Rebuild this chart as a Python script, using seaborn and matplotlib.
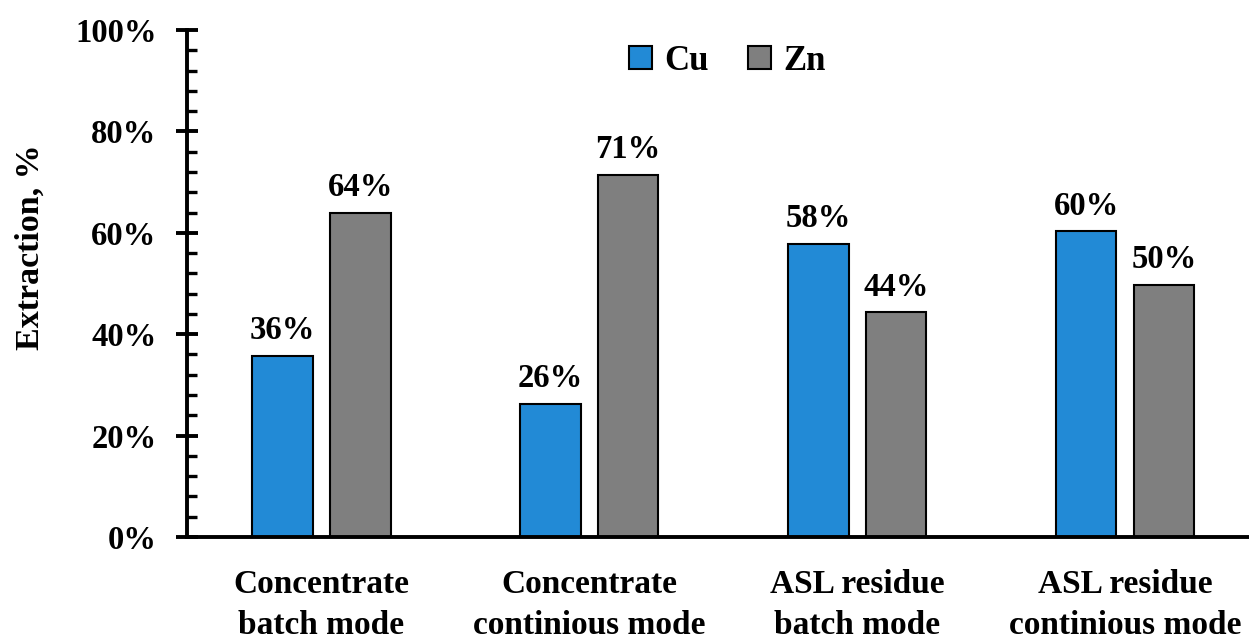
import pandas as pd
import numpy as np
import matplotlib
matplotlib.use("Agg")
import matplotlib.pyplot as plt
from matplotlib.ticker import MultipleLocator, PercentFormatter
import seaborn as sns

# data
samples = ["Concentrate\nbatch mode", "Concentrate\ncontinious mode",
           "ASL residue\nbatch mode", "ASL residue\ncontinious mode"]
metals = ["Cu", "Zn"]
cu_extraction = [35.7, 26.2, 57.8, 60.3]
zn_extraction = [63.9, 71.4, 44.3, 49.7]

df = pd.DataFrame({
    "sample": samples * 2,
    "metal": ["Cu"] * 4 + ["Zn"] * 4,
    "extraction": cu_extraction + zn_extraction,
})

sns.set_style("white")
plt.rcParams["font.family"] = ["Liberation Serif", "DejaVu Serif"]
plt.rcParams["font.weight"] = "bold"
plt.rcParams["text.color"] = "black"
plt.rcParams["xtick.color"] = "black"
plt.rcParams["ytick.color"] = "black"
plt.rcParams["axes.labelcolor"] = "black"

fig = plt.figure(figsize=(12.49, 6.43), dpi=100)
ax = fig.add_axes([187 / 1249, 1 - 537 / 643, 1070 / 1249, 507 / 643])

sns.barplot(data=df, x="sample", y="extraction", hue="metal",
            palette={"Cu": "#228AD6", "Zn": "#7F7F7F"}, saturation=1,
            width=0.58, gap=0.22, edgecolor="black", linewidth=1.5,
            ax=ax)

for cont in ax.containers:
    ax.bar_label(cont, labels=[f"{v:.0f}%" for v in cont.datavalues],
                 padding=7, fontsize=23.5, fontweight="bold")

ax.set_ylim(0, 100)
ax.set_xlim(-0.502, 3.493)
ax.yaxis.set_major_locator(MultipleLocator(20))
ax.yaxis.set_minor_locator(MultipleLocator(4))
ax.yaxis.set_major_formatter(PercentFormatter(decimals=0))
ax.tick_params(axis="y", which="major", direction="inout", length=16,
               width=2.8, labelsize=23.5, pad=14, left=True)
ax.tick_params(axis="y", which="minor", direction="in", length=7,
               width=2.4, left=True)
ax.tick_params(axis="x", length=0, labelsize=24, pad=23)
for lab in ax.get_xticklabels():
    lab.set_linespacing(1.42)
ax.set_xlabel("")
ax.set_ylabel("Extraction, %", fontsize=24.5, fontweight="bold")
ax.yaxis.set_label_coords(-0.132, 0.572)

for side in ["top", "right"]:
    ax.spines[side].set_visible(False)
for side in ["left", "bottom"]:
    ax.spines[side].set_linewidth(2.8)
    ax.spines[side].set_color("black")

ax.legend(loc="upper center", bbox_to_anchor=(0.505, 1.033), ncol=2,
          frameon=False, fontsize=25, handlelength=0.65, handleheight=0.65,
          handletextpad=0.35, columnspacing=1.15, title=None)

fig.savefig("out.png", dpi=100)
